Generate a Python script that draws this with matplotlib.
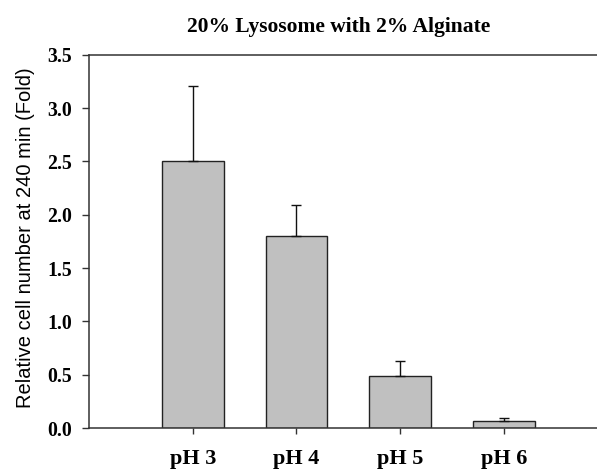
import matplotlib
matplotlib.use("Agg")
import matplotlib.pyplot as plt

categories = ["pH 3", "pH 4", "pH 5", "pH 6"]
values = [2.50, 1.80, 0.49, 0.07]
errors = [0.71, 0.29, 0.14, 0.02]
yticks = [0.0, 0.5, 1.0, 1.5, 2.0, 2.5, 3.0, 3.5]

W, H = 597, 471
fig = plt.figure(figsize=(W / 100, H / 100), dpi=100)
ax = fig.add_axes([89 / W, (H - 428) / H, (W - 89) / W, (428 - 54.7) / H])

x = [1, 2, 3, 4]
ax.bar(x, values, width=0.595, color="#c0c0c0", edgecolor="#222222", linewidth=1.0, zorder=2)
ax.errorbar(x, values, yerr=[[0] * 4, errors], fmt="none", ecolor="#111111",
            elinewidth=1.0, capsize=3.6, capthick=1.0, zorder=3)

ax.set_xlim(0, (W - 88.7) / 103.8)
ax.set_ylim(0, 3.5)
ax.set_xticks(x)
ax.set_xticklabels(categories, fontfamily="Liberation Serif", fontweight="bold", fontsize=16)
ax.set_yticks(yticks)
ax.set_yticklabels([f"{v:.1f}" for v in yticks], fontfamily="Liberation Serif",
                   fontweight="bold", fontsize=14.2)
ax.tick_params(axis="x", direction="out", length=4, width=1.0, pad=11, colors="#333333", labelcolor="black")
ax.tick_params(axis="y", direction="out", length=5, width=1.0, pad=7, colors="#333333", labelcolor="black")

for s in ["left", "bottom", "top"]:
    ax.spines[s].set_color("#333333")
    ax.spines[s].set_linewidth(1.1)
ax.spines["right"].set_visible(False)

fig.text(26 / W, 1 - 238 / H, "Relative cell number at 240 min (Fold)", rotation=90,
         ha="center", va="center", fontfamily="Liberation Sans", fontsize=14.5)
fig.text(339 / W, 1 - 31.7 / H, "20% Lysosome with 2% Alginate", ha="center", va="baseline",
         fontfamily="Liberation Serif", fontweight="bold", fontsize=15.5)

fig.savefig("out.png", dpi=100)
